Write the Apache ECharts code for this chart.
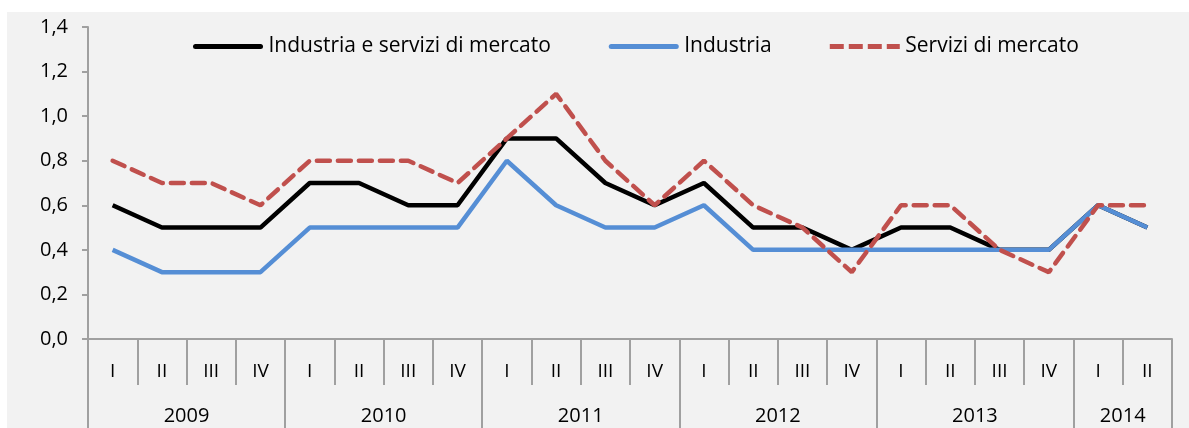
<!DOCTYPE html>
<html>
<head>
<meta charset="utf-8">
<script src="https://cdn.jsdelivr.net/npm/echarts@6/dist/echarts.min.js"></script>
<style>
  html, body { margin: 0; padding: 0; background: #fff; }
  #main { width: 1189px; height: 428px; }
</style>
</head>
<body>
<div id="main"></div>
<script>
// trimestri 2009 I - 2014 II
var quarters = ['I','II','III','IV','I','II','III','IV','I','II','III','IV',
                'I','II','III','IV','I','II','III','IV','I','II'];
var years = ['2009','2010','2011','2012','2013','2014'];
var yearQuarters = [4, 4, 4, 4, 4, 2];

var totale = [0.6,0.5,0.5,0.5, 0.7,0.7,0.6,0.6, 0.9,0.9,0.7,0.6,
              0.7,0.5,0.5,0.4, 0.5,0.5,0.4,0.4, 0.6,0.5];
var industria = [0.4,0.3,0.3,0.3, 0.5,0.5,0.5,0.5, 0.8,0.6,0.5,0.5,
                 0.6,0.4,0.4,0.4, 0.4,0.4,0.4,0.4, 0.6,0.5];
var servizi = [0.8,0.7,0.7,0.6, 0.8,0.8,0.8,0.7, 0.9,1.1,0.8,0.6,
               0.8,0.6,0.5,0.3, 0.6,0.6,0.4,0.3, 0.6,0.6];

var font = 'Open Sans';
var gray = '#a0a0a0';

// confini e centri degli anni sull'asse dei trimestri
var yearBounds = [0], yearCenters = [];
var acc = 0;
for (var i = 0; i < yearQuarters.length; i++) {
  yearCenters.push(acc + yearQuarters[i] / 2);
  acc += yearQuarters[i];
  yearBounds.push(acc);
}

// icone legenda: linea piena e tratteggiata
var solidIcon = 'path://M2.5,0H67.5A2.5,2.5,0,0,1,67.5,5H2.5A2.5,2.5,0,0,1,2.5,0Z';
var dashIcon = 'path://M0,0H14V5H0Z M19,0H33V5H19Z M38,0H52V5H38Z M57,0H70V5H57Z';

var myChart = echarts.init(document.getElementById('main'));
var option = {
  animation: false,
  graphic: [{
    type: 'rect', z: -10, silent: true,
    shape: { x: 7, y: 12, width: 1182, height: 416 },
    style: { fill: '#f2f2f2' }
  }],
  legend: {
    top: 31,
    left: 188,
    itemWidth: 71,
    itemHeight: 5,
    itemGap: 58,
    textStyle: { fontFamily: font, fontSize: 21, color: '#000' },
    data: [
      { name: 'Industria e servizi di mercato', icon: solidIcon },
      { name: 'Industria', icon: solidIcon },
      { name: 'Servizi di mercato', icon: dashIcon }
    ]
  },
  grid: { left: 88, right: 17, top: 27, bottom: 89, containLabel: false },
  xAxis: [{
    type: 'category',
    data: quarters,
    boundaryGap: true,
    axisLine: { lineStyle: { color: gray, width: 2 } },
    axisTick: { show: true, interval: 0, length: 46, lineStyle: { color: gray, width: 2 } },
    axisLabel: { interval: 0, margin: 23, fontFamily: font, fontSize: 19, color: '#000' }
  }, {
    type: 'value',
    position: 'bottom',
    min: 0,
    max: quarters.length,
    offset: 0,
    splitLine: { show: false },
    axisLine: { show: false },
    axisTick: { show: true, length: 90, customValues: yearBounds,
                lineStyle: { color: gray, width: 2 } },
    axisLabel: {
      customValues: yearCenters,
      margin: 67,
      fontFamily: font, fontSize: 20, color: '#000',
      formatter: function (v) { return years[yearCenters.indexOf(v)]; }
    }
  }],
  yAxis: {
    type: 'value',
    min: 0,
    max: 1.4,
    interval: 0.2,
    splitLine: { show: false },
    axisLine: { show: true, lineStyle: { color: gray, width: 2 } },
    axisTick: { show: true, length: 6, lineStyle: { color: gray, width: 2 } },
    axisLabel: {
      margin: 20,
      fontFamily: font, fontSize: 20, color: '#000',
      formatter: function (v) { return v.toFixed(1).replace('.', ','); }
    }
  },
  series: [{
    name: 'Industria e servizi di mercato',
    type: 'line',
    data: totale,
    symbol: 'none',
    itemStyle: { color: '#000000' },
    lineStyle: { color: '#000000', width: 4.5 },
    z: 2
  }, {
    name: 'Industria',
    type: 'line',
    data: industria,
    symbol: 'none',
    itemStyle: { color: '#558ed5' },
    lineStyle: { color: '#558ed5', width: 4.5 },
    z: 3
  }, {
    name: 'Servizi di mercato',
    type: 'line',
    data: servizi,
    symbol: 'none',
    itemStyle: { color: '#c0504d' },
    lineStyle: { color: '#c0504d', width: 4.5, type: [13, 8], cap: 'round' },
    z: 4
  }]
};
myChart.setOption(option);
</script>
</body>
</html>
